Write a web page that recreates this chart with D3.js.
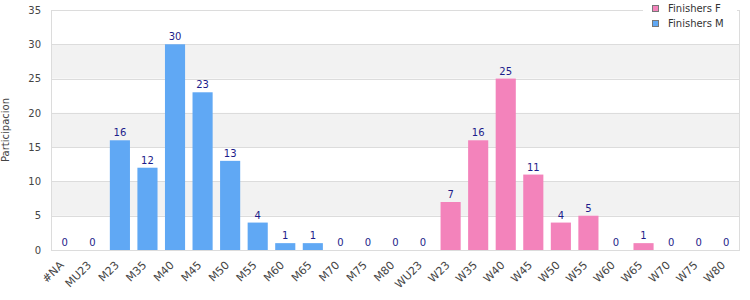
<!DOCTYPE html>
<html>
<head>
<meta charset="utf-8">
<script src="https://cdn.jsdelivr.net/npm/d3@7"></script>
<style>
  body { margin: 0; background: #fff; }
  text { font-family: "DejaVu Sans", Verdana, sans-serif; }
</style>
</head>
<body>
<div id="chart"></div>
<script>
// categories along the x axis
var categories = ['#NA', 'MU23', 'M23', 'M35', 'M40', 'M45', 'M50', 'M55', 'M60', 'M65', 'M70', 'M75', 'M80',
  'WU23', 'W23', 'W35', 'W40', 'W45', 'W50', 'W55', 'W60', 'W65', 'W70', 'W75', 'W80']
// finishers per category
var finishers = [0, 0, 16, 12, 30, 23, 13, 4, 1, 1, 0, 0, 0, 0, 7, 16, 25, 11, 4, 5, 0, 1, 0, 0, 0]
// which series each bar belongs to
var series = ['M', 'M', 'M', 'M', 'M', 'M', 'M', 'M', 'M', 'M', 'M', 'M', 'M',
  'F', 'F', 'F', 'F', 'F', 'F', 'F', 'F', 'F', 'F', 'F', 'F']
var legendLabels = ['Finishers F', 'Finishers M']
var legendKeys = ['F', 'M']
var yTicks = [0, 5, 10, 15, 20, 25, 30, 35]

var colors = { 'F': '#f383bb', 'M': '#60a8f4' }

const width = 750
const height = 300
var margin = { top: 10, right: 10, bottom: 50, left: 51 }
var innerW = width - margin.left - margin.right
var innerH = height - margin.top - margin.bottom

var svg = d3.select('#chart')
  .append('svg')
  .attr('width', width)
  .attr('height', height)

var g = svg.append('g').attr('transform', 'translate(' + margin.left + ',' + margin.top + ')')

var x = d3.scaleBand()
  .domain(categories)
  .range([0, innerW])
  .paddingInner(0.27)
  .paddingOuter(0.135)

var y = d3.scaleLinear().domain([0, 35]).range([innerH, 0])

// alternating grey bands
var bands = yTicks.slice(0, -1).filter(function (t, i) { return i % 2 == 1 })
g.selectAll('.band')
  .data(bands)
  .enter()
  .append('rect')
  .attr('x', 0)
  .attr('width', innerW)
  .attr('y', function (d) { return y(d + 5) })
  .attr('height', function (d) { return y(d) - y(d + 5) })
  .attr('fill', '#f2f2f2')

// grid lines
g.selectAll('.grid')
  .data(yTicks)
  .enter()
  .append('line')
  .attr('x1', 0)
  .attr('x2', innerW)
  .attr('y1', function (d) { return Math.round(y(d)) + 0.5 })
  .attr('y2', function (d) { return Math.round(y(d)) + 0.5 })
  .attr('stroke', '#dcdcdc')

// frame
g.append('rect')
  .attr('x', 0.5)
  .attr('y', 0.5)
  .attr('width', innerW - 1)
  .attr('height', innerH)
  .attr('fill', 'none')
  .attr('stroke', '#dcdcdc')

// y axis
var yAxis = g.append('g')
  .call(d3.axisLeft(y).tickValues(yTicks).tickSize(0).tickPadding(10))
yAxis.select('.domain').remove()
yAxis.selectAll('text')
  .attr('font-size', '10px')
  .attr('font-family', '"DejaVu Sans", Verdana, sans-serif')
  .attr('fill', '#444')

// x axis labels
var xAxis = g.append('g')
  .attr('transform', 'translate(0,' + innerH + ')')
  .call(d3.axisBottom(x).tickSize(0).tickPadding(0))
xAxis.select('.domain').remove()
xAxis.selectAll('text')
  .attr('font-size', '11px')
  .attr('font-family', '"DejaVu Sans", Verdana, sans-serif')
  .attr('fill', '#444')
  .attr('text-anchor', 'end')
  .attr('dy', '0.35em')
  .attr('transform', 'translate(-3,13) rotate(-45)')

// bars
g.selectAll('.bar')
  .data(finishers)
  .enter()
  .append('rect')
  .attr('x', function (d, i) { return x(categories[i]) })
  .attr('width', x.bandwidth())
  .attr('y', function (d) { return y(d) })
  .attr('height', function (d) { return innerH - y(d) })
  .attr('fill', function (d, i) { return colors[series[i]] })

// value labels
g.selectAll('.val')
  .data(finishers)
  .enter()
  .append('text')
  .attr('x', function (d, i) { return x(categories[i]) + x.bandwidth() / 2 })
  .attr('y', function (d) { return y(d) - 4 })
  .attr('text-anchor', 'middle')
  .attr('font-size', '10px')
  .attr('fill', '#1d1d8a')
  .text(function (d) { return d })

// y axis title
svg.append('text')
  .attr('transform', 'translate(9,' + (margin.top + innerH / 2) + ') rotate(-90)')
  .attr('text-anchor', 'middle')
  .attr('font-size', '10px')
  .attr('fill', '#444')
  .text('Participacion')

// legend
var legend = svg.append('g').attr('transform', 'translate(643,0)')
legend.append('rect')
  .attr('x', 0)
  .attr('y', 0)
  .attr('width', 94)
  .attr('height', 33)
  .attr('fill', '#fff')
legendKeys.forEach(function (k, i) {
  legend.append('rect')
    .attr('x', 9.5)
    .attr('y', 5.5 + i * 15)
    .attr('width', 6)
    .attr('height', 6)
    .attr('fill', colors[k])
    .attr('stroke', '#777')
  legend.append('text')
    .attr('x', 25)
    .attr('y', 12 + i * 15)
    .attr('font-size', '10px')
    .attr('fill', '#333')
    .text(legendLabels[i])
})
</script>
</body>
</html>
